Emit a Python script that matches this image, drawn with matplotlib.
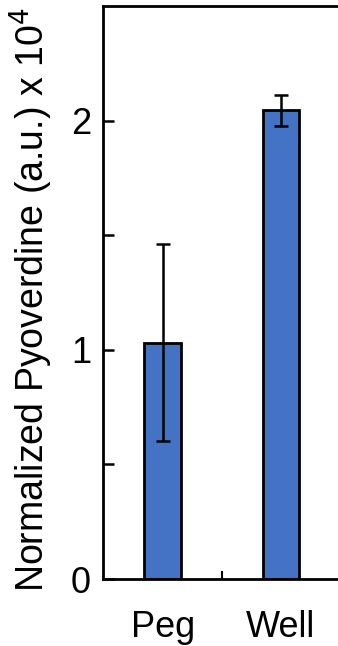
import matplotlib
matplotlib.use("Agg")
import matplotlib.pyplot as plt

categories = ["Peg", "Well"]
values = [1.03, 2.045]
errors = [0.43, 0.067]

plt.rcParams["font.family"] = ["Liberation Sans", "DejaVu Sans"]

fig = plt.figure(figsize=(3.38, 6.46), dpi=100)
ax = fig.add_axes([0.306, 0.1037, 0.7, 0.887])

x = range(len(categories))
ax.bar(x, values, width=0.31, color="#4472C4", edgecolor="black", linewidth=2,
       yerr=errors, error_kw=dict(ecolor="black", elinewidth=1.8, capsize=5, capthick=1.8))

ax.set_xlim(-0.5, 1.5)
ax.set_ylim(0, 2.5)

ax.set_yticks([0, 0.5, 1, 1.5, 2])
ax.set_yticklabels(["0", "", "1", "", "2"])
ax.set_xticks(list(x))
ax.set_xticklabels(categories)
ax.set_xticks([0.5], minor=True)

ax.tick_params(axis="y", direction="in", length=8, width=1.8, labelsize=26, pad=9)
ax.tick_params(axis="x", which="major", length=0, labelsize=26, pad=22)
ax.tick_params(axis="x", which="minor", direction="in", length=6, width=1.5)

for side in ["left", "bottom", "top"]:
    ax.spines[side].set_linewidth(2)
ax.spines["right"].set_visible(False)

ax.set_ylabel("Normalized Pyoverdine (a.u.) x 10$^4$", fontsize=27)
ax.yaxis.set_label_coords(-0.205, 0.487)

fig.savefig("out.png", dpi=100)
